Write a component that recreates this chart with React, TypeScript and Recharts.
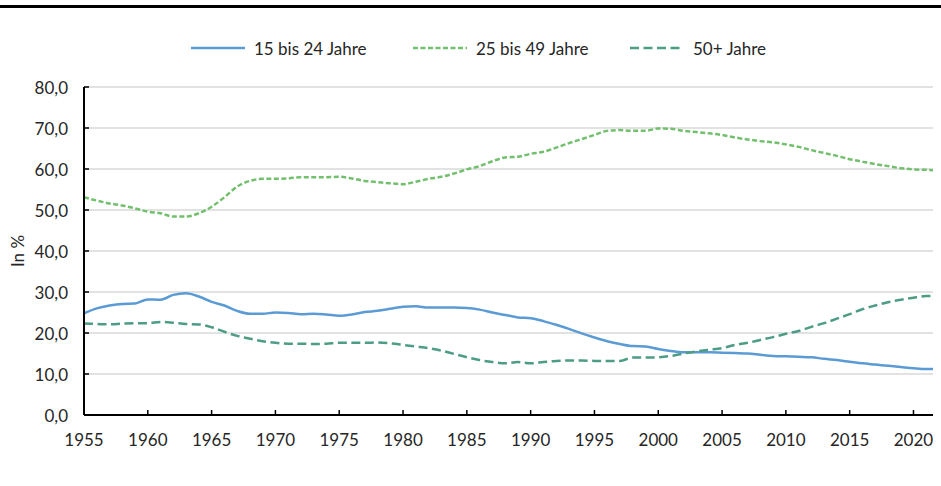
import React from 'react';
import { LineChart, Line, XAxis, YAxis, CartesianGrid, Legend } from 'recharts';

const years: number[] = Array.from({ length: 68 }, (_, i) => 1955 + i);

const jung: number[] = [
  24.8, 26.0, 26.7, 27.1, 27.2, 28.2, 28.1, 29.3, 29.7, 28.9,
  27.6, 26.7, 25.4, 24.7, 24.7, 25.0, 24.9, 24.6, 24.7, 24.5,
  24.2, 24.5, 25.1, 25.4, 25.9, 26.4, 26.5, 26.2, 26.2, 26.2,
  26.1, 25.7, 25.0, 24.4, 23.8, 23.6, 22.9, 22.0, 21.0, 19.9,
  18.9, 18.0, 17.3, 16.8, 16.7, 16.1, 15.6, 15.3, 15.3, 15.3,
  15.2, 15.1, 15.0, 14.7, 14.4, 14.3, 14.2, 14.1, 13.7, 13.4,
  13.0, 12.6, 12.3, 12.0, 11.7, 11.4, 11.2, 11.2,
];

const mittel: number[] = [
  53.1, 52.3, 51.6, 51.1, 50.4, 49.6, 49.2, 48.4, 48.4, 49.2,
  50.8, 53.1, 55.7, 57.1, 57.6, 57.6, 57.7, 58.0, 58.0, 58.0,
  58.1, 57.7, 57.1, 56.8, 56.5, 56.3, 56.9, 57.6, 58.1, 58.9,
  59.9, 60.7, 61.9, 62.8, 63.0, 63.7, 64.2, 65.2, 66.3, 67.3,
  68.3, 69.3, 69.5, 69.3, 69.3, 69.9, 69.8, 69.3, 69.0, 68.7,
  68.3, 67.7, 67.2, 66.8, 66.5, 66.0, 65.4, 64.6, 63.9, 63.2,
  62.4, 61.8, 61.2, 60.7, 60.2, 59.9, 59.8, 59.6,
];

const alt: number[] = [
  22.3, 22.2, 22.1, 22.3, 22.4, 22.4, 22.7, 22.5, 22.2, 22.1,
  21.4, 20.3, 19.3, 18.6, 18.0, 17.6, 17.4, 17.4, 17.3, 17.4,
  17.6, 17.6, 17.6, 17.7, 17.5, 17.1, 16.7, 16.3, 15.7, 14.9,
  14.1, 13.4, 12.9, 12.6, 12.9, 12.6, 12.9, 13.2, 13.3, 13.3,
  13.2, 13.2, 13.2, 14.0, 14.0, 14.1, 14.4, 15.0, 15.5, 15.9,
  16.3, 17.1, 17.6, 18.3, 19.0, 19.8, 20.5, 21.5, 22.4, 23.5,
  24.6, 25.8, 26.7, 27.5, 28.1, 28.6, 29.0, 29.1,
];

const seriesNames: string[] = ['15 bis 24 Jahre', '25 bis 49 Jahre', '50+ Jahre'];
const xTicks: number[] = [1955, 1960, 1965, 1970, 1975, 1980, 1985, 1990, 1995, 2000, 2005, 2010, 2015, 2020];
const yTicks: number[] = [0, 10, 20, 30, 40, 50, 60, 70, 80];

const data = years.map((y, i) => ({ year: y, a: jung[i], b: mittel[i], c: alt[i] }));

const FONT = 'Lato, "DejaVu Sans", sans-serif';
const FS = 17;
const TEXT = '#262626';
const COLORS = ['#5b9bd5', '#72c06d', '#4c9c86'];
const DASHES = [undefined, '5 2.5', '9 4.5'];

const XTick = (props: any) => {
  const { x, y, payload } = props;
  return (
    <g>
      <line x1={x} y1={y} x2={x} y2={y - 5} stroke="#000" strokeWidth={1.5} />
      <text x={x} y={y + 24} textAnchor="middle" dominantBaseline="central" fontFamily={FONT} fontSize={FS} fill={TEXT}>
        {payload.value}
      </text>
    </g>
  );
};

const YTick = (props: any) => {
  const { x, y, payload } = props;
  return (
    <g>
      <line x1={x} y1={y} x2={x + 5} y2={y} stroke="#000" strokeWidth={1.5} />
      <text x={x - 16} y={y} textAnchor="end" dominantBaseline="central" fontFamily={FONT} fontSize={FS} fill={TEXT}>
        {Number(payload.value).toFixed(1).replace('.', ',')}
      </text>
    </g>
  );
};

const YLabel = (props: any) => {
  const vb = props && props.viewBox;
  const cy = vb ? vb.y + vb.height / 2 : 251;
  return (
    <text x={17} y={cy} transform={`rotate(-90, 17, ${cy})`} textAnchor="middle" dominantBaseline="central" fontFamily={FONT} fontSize={FS} fill={TEXT}>
      In %
    </text>
  );
};

const LegendContent = () => {
  const lefts = [191, 413, 630];
  return (
    <div style={{ position: 'relative', height: 22, fontFamily: FONT, fontSize: FS, color: TEXT }}>
      {seriesNames.map((name, i) => (
        <div key={name} style={{ position: 'absolute', left: lefts[i], top: 0, height: 22, display: 'flex', alignItems: 'center', whiteSpace: 'nowrap' }}>
          <svg width={54} height={10} style={{ display: 'block' }}>
            <line x1={0} y1={5} x2={54} y2={5} stroke={COLORS[i]} strokeWidth={2.5} strokeDasharray={DASHES[i]} />
          </svg>
          <span style={{ marginLeft: 9 }}>{name}</span>
        </div>
      ))}
      <div style={{ position: 'absolute', left: 0, top: -32, width: 941, height: 3, background: '#000' }} />
    </div>
  );
};

export default function App() {
  return (
    <div style={{ position: 'relative', width: 941, height: 486, margin: '-8px 0 0 -8px', background: '#fff' }}>
      <LineChart width={941} height={486} data={data} margin={{ top: 87, right: 2, bottom: 41, left: 24 }}>
        <CartesianGrid vertical={false} stroke="#d9d9d9" strokeWidth={1.5} />
        <XAxis
          dataKey="year"
          type="number"
          domain={[1955, 2022]}
          ticks={xTicks}
          height={30}
          tickSize={0}
          tickMargin={0}
          tickLine={false}
          tick={<XTick />}
          axisLine={{ stroke: '#000', strokeWidth: 2 }}
          interval={0}
        />
        <YAxis
          domain={[0, 80]}
          ticks={yTicks}
          width={60}
          tickSize={0}
          tickMargin={0}
          tickLine={false}
          tick={<YTick />}
          axisLine={{ stroke: '#000', strokeWidth: 2 }}
          interval={0}
          label={<YLabel />}
        />
        <Legend
          layout="vertical"
          verticalAlign="middle"
          align="center"
          content={<LegendContent />}
          wrapperStyle={{ top: 37, left: 0, width: 941, height: 22 }}
        />
        <Line type="monotone" dataKey="a" name={seriesNames[0]} stroke={COLORS[0]} strokeWidth={2.5} dot={false} isAnimationActive={false} />
        <Line type="monotone" dataKey="b" name={seriesNames[1]} stroke={COLORS[1]} strokeWidth={2.5} strokeDasharray={DASHES[1]} dot={false} isAnimationActive={false} />
        <Line type="monotone" dataKey="c" name={seriesNames[2]} stroke={COLORS[2]} strokeWidth={2.5} strokeDasharray={DASHES[2]} dot={false} isAnimationActive={false} />
        <rect x={0} y={5} width={941} height={3} fill="#000" />
      </LineChart>
      <div style={{ position: 'fixed', left: 0, top: 5, width: 941, height: 3, background: '#000', zIndex: 20 }} />
    </div>
  );
}
